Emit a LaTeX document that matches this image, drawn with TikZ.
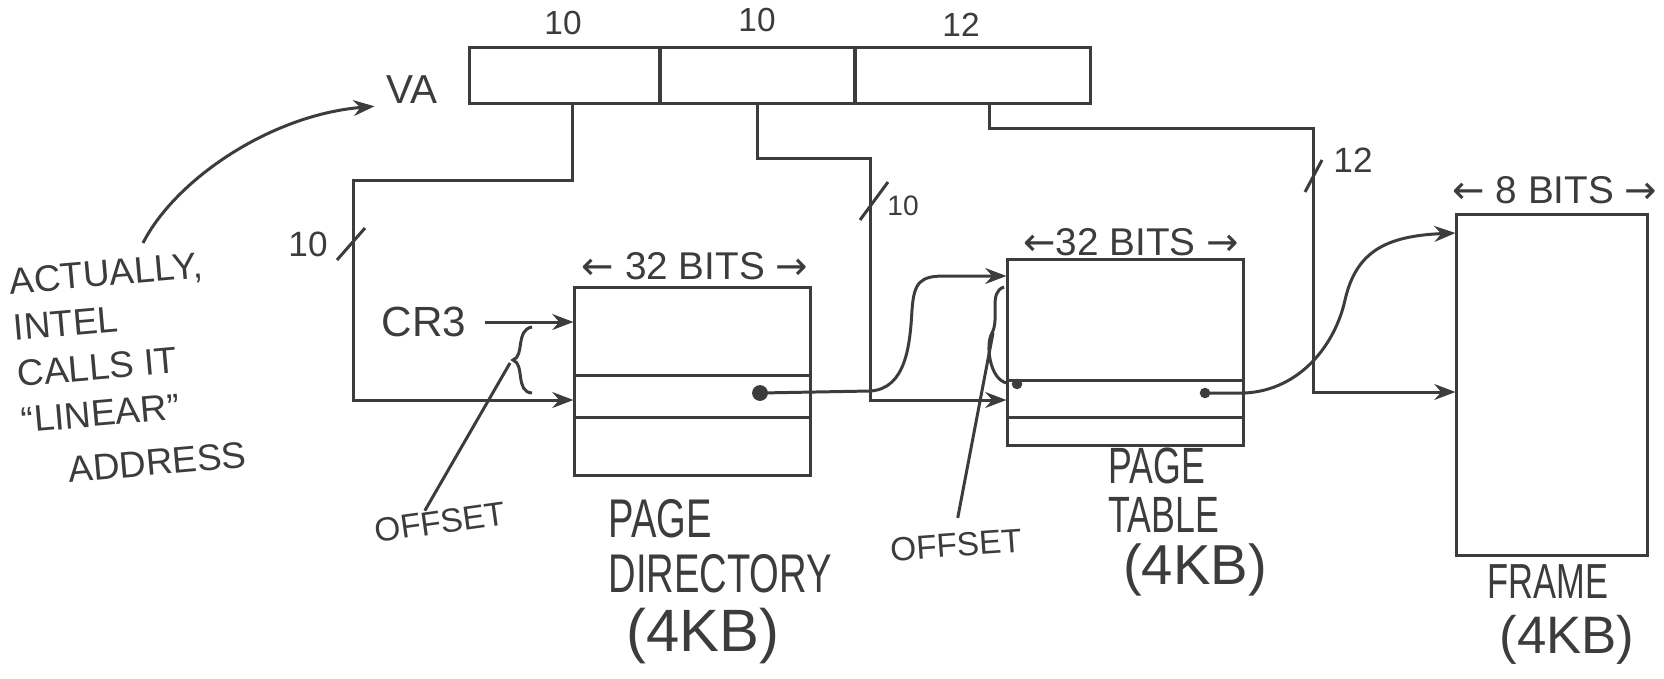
\documentclass[tikz,border=0pt]{standalone}
\usepackage{fontspec}
\setmainfont{Liberation Sans}
\newfontfamily\handn[FakeStretch=0.7]{Liberation Sans}
\newfontfamily\arrf{DejaVu Sans}
\usetikzlibrary{arrows.meta,calc}
\definecolor{ink}{HTML}{3C3C3C}
\newcommand{\myfs}[2]{\fontsize{#1}{#2}\selectfont}
\newcommand{\myla}{{\arrf ←}}
\newcommand{\myra}{{\arrf →}}
\begin{document}
\begin{tikzpicture}[x=0.01cm,y=-0.01cm,color=ink,line width=0.85pt,
  every node/.style={inner sep=0pt},
  box/.style={draw,rectangle,line width=0.85pt},
  arr/.style={-{Stealth[length=6pt,width=4.5pt]}},
  dot/.style={circle,fill=ink,minimum size=4.5pt,inner sep=0pt},
  small/.style={font=\myfs{9.5}{10}},
  mid/.style={font=\myfs{11}{12}},
  kb/.style={font=\myfs{17}{18}}]
\useasboundingbox (0,0) rectangle (1664,678);
\fill[white] (0,0) rectangle (1664,678);

% virtual address register
\node[box,minimum width=1.9cm,minimum height=0.55cm] (f1) at (565,75.5) {};
\node[box,minimum width=1.95cm,minimum height=0.55cm] (f2) at (757.5,75.5) {};
\node[box,minimum width=2.35cm,minimum height=0.55cm] (f3) at (972.5,75.5) {};
\node[small] (n1) at (563,23) {10};
\node[small] (n2) at (757,20) {10};
\node[small] (n3) at (961,25) {12};
\node[font=\myfs{11.5}{12}] (va) at (412,90) {VA};

% tables
\node[box,minimum width=2.35cm,minimum height=1.87cm] (pd) at (692.5,381.5) {};
\node[box,minimum width=2.35cm,minimum height=1.85cm] (pt) at (1125.5,352.5) {};
\node[box,minimum width=1.9cm,minimum height=3.4cm] (frame) at (1552,385) {};
\draw (pd.west |- 0,375) -- (pd.east |- 0,375);
\draw (pd.west |- 0,417) -- (pd.east |- 0,417);
\draw (pt.west |- 0,380) -- (pt.east |- 0,380);
\draw (pt.west |- 0,417) -- (pt.east |- 0,417);

\node[mid] (w1) at (695,266) {\myla\ 32 BITS \myra};
\node[mid] (w2) at (1131,242) {\myla32 BITS \myra};
\node[mid] (w3) at (1555,190) {\myla\ 8 BITS \myra};

% index connectors
\draw[arr] ([xshift=0.07cm]f1.south) |- (353,180) |- (pd.west |- 0,400);
\draw[arr] (f2.south) |- (870,158) |- (pt.west |- 0,400);
\draw[arr] ([xshift=0.165cm]f3.south) |- (1313,128) |- (frame.west |- 0,392);

% bit-count slashes
\draw (337,260) -- (365,228);
\node[font=\myfs{10}{11}] (s1) at (308,244) {10};
\draw (860,220) -- (888,182);
\node[font=\myfs{8}{9}] (s2) at (903,206) {10};
\draw (1305,192) -- (1322,160);
\node[font=\myfs{10}{11}] (s3) at (1353,160) {12};

% CR3
\node[font=\myfs{12}{13}] (cr3) at (424,322) {CR3};
\draw[arr,shorten <=5pt] (cr3.east) -- (pd.west |- cr3.east);

% offsets
\draw (532,327) .. controls (515,330) and (525,356) .. (513,360) .. controls (525,364) and (515,392) .. (532,393);
\coordinate (b1) at (510,363);
\node[font=\myfs{9.5}{10},rotate=8] (off1) at (440,522) {OFFSET};
\draw (b1) -- ($(off1.north west)!0.4!(off1.north east)$);
\draw (1004,287) .. controls (988,292) and (1000,318) .. (992,333) .. controls (985,345) and (990,380) .. (1007,383);
\coordinate (b2) at (993,333);
\node[font=\myfs{9.5}{10},rotate=4] (off2) at (956,545) {OFFSET};
\draw[shorten >=4pt] (b2) -- (off2.north);

% entry pointers
\node[dot] (d1) at (760,393) {};
\node[dot,minimum size=3pt] (d2) at (1017,384) {};
\node[dot,minimum size=3pt] (d3) at (1205,393) {};
\draw[arr] (d1.center) -- (870,391) .. controls (906,389) and (910,345) .. (912,310) .. controls (914,282) and (920,276) .. (945,276) -- (pt.west |- 0,276);
\draw[arr] (d3.center) -- (1245,393) .. controls (1300,390) and (1335,345) .. (1345,300) .. controls (1356,252) and (1385,236) .. (frame.west |- 0,233);

% note
\node[font=\myfs{10.5}{13.2}, align=left, rotate=5] (note) at (128,368) {ACTUALLY,\\INTEL\\CALLS IT\\“LINEAR”\\[2pt]\hspace*{12pt}ADDRESS};
\coordinate (nst) at (143,243);
\draw[arr,shorten >=3pt] (nst) .. controls (175,180) and (270,115) .. (va.south west);

% captions
\node[align=left,anchor=north west,font=\handn\myfs{15.5}{15.5}] (pdl) at (607,498) {PAGE\\DIRECTORY};
\node[kb] (pdkb) at (703,636) {(4KB)};
\node[align=left,anchor=north west,font=\handn\myfs{14.5}{14}] (ptl) at (1107,446) {PAGE\\TABLE};
\node[font=\myfs{16}{17}] (ptkb) at (1195,570) {(4KB)};
\node[font=\handn\myfs{14}{15}] (frl) at (1548,582) {FRAME};
\node[font=\myfs{15}{16}] (frkb) at (1567,640) {(4KB)};
\end{tikzpicture}
\end{document}
